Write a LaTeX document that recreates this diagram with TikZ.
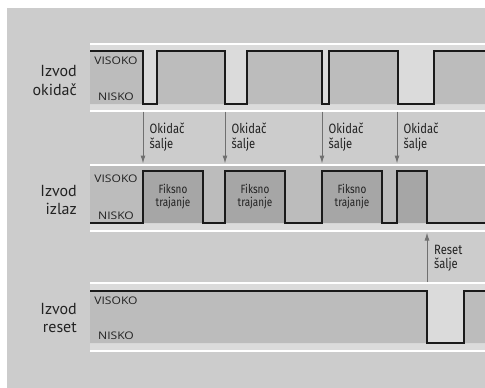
\documentclass[tikz,border=0pt]{standalone}
\usepackage{fontspec}
\setmainfont{PT Sans}
\newfontfamily\condfont[FakeStretch=0.83]{Fira Sans}
\newfontfamily\levelfont[FakeStretch=1.15]{Open Sans}
\usetikzlibrary{arrows.meta}
\definecolor{panelbg}{HTML}{CCCCCC}
\definecolor{lite}{HTML}{DBDBDB}
\definecolor{midg}{HTML}{BCBCBC}
\definecolor{darkg}{HTML}{A6A6A6}
\definecolor{arrowg}{HTML}{707070}
\definecolor{sigc}{HTML}{1A1A1A}
\definecolor{txt}{HTML}{222222}
\tikzset{
  rowlabel/.style={align=right, inner sep=0pt, text=txt, font=\fontsize{16}{18.5}\selectfont},
  level/.style={inner sep=0pt, text=txt, font=\levelfont\fontsize{10.5}{12}\selectfont},
  evlabel/.style={align=left, inner sep=0pt, text=txt, font=\condfont\fontsize{13.5}{14.5}\selectfont},
  fixlabel/.style={align=center, inner sep=0pt, text=txt, font=\condfont\fontsize{12}{13}\selectfont},
  sepline/.style={draw=white, line width=2pt},
  signal/.style={draw=sigc, line width=1.3pt, line join=miter},
  evarrow/.style={draw=arrowg, line width=1pt, -{Latex[length=8pt,width=5pt]}},
}
\begin{document}
\begin{tikzpicture}[x=1pt,y=-1pt]
\useasboundingbox (0,0) rectangle (485,388);
\fill[white] (0,0) rectangle (485,388);
\fill[panelbg] (7,8) rectangle (485,388);

% ---------- Row 1: trigger ----------
\fill[lite] (90,44) rectangle (485,110);
\fill[midg] (90,51) rectangle (143,104) (157,51) rectangle (225,104)
  (247,51) rectangle (322,104) (329,51) rectangle (398,104) (434,51) rectangle (485,104);
\draw[sepline] (90,43.5) -- (485,43.5) (90,110.5) -- (485,110.5);
\draw[signal] (90,51) -| (143,104) -| (157,51) -| (225,104) -| (247,51) -| (322,104)
  -| (329,51) -| (398,104) -| (434,51) -- (485,51);

% ---------- Row 2: output ----------
\fill[lite] (90,165) rectangle (485,230);
\fill[midg] (90,165) rectangle (485,223);
\fill[darkg] (143,171) rectangle (203,223) (225,171) rectangle (285,223)
  (322,171) rectangle (382,223) (397,171) rectangle (427,223);
\draw[sepline] (90,164.5) -- (485,164.5) (90,231) -- (485,231);
\draw[signal] (90,223) -| (143,171) -| (203,223) -| (225,171) -| (285,223) -| (322,171)
  -| (382,223) -| (397,171) -| (427,223) -- (485,223);

% ---------- Row 3: reset ----------
\fill[lite] (90,283) rectangle (485,350);
\fill[midg] (90,291) rectangle (427,343) (464,291) rectangle (485,343);
\draw[sepline] (90,283) -- (485,283) (90,351) -- (485,351);
\draw[signal] (90,291) -| (427,343) -| (464,291) -- (485,291);

% ---------- Row labels (base = last line) ----------
\node[rowlabel, anchor=base east] (lab1) at (77,95) {Izvod\\okidač};
\node[rowlabel, anchor=base east] (lab2) at (77,214.5) {Izvod\\izlaz};
\node[rowlabel, anchor=base east] (lab3) at (77,332.5) {Izvod\\reset};

% ---------- Level labels ----------
\node[level] (hi1) at (116,60.3) {VISOKO};
\node[level] (lo1) at (116,96.3) {NISKO};
\node[level] (hi2) at (116,178.7) {VISOKO};
\node[level] (lo2) at (116,215.5) {NISKO};
\node[level] (hi3) at (116,301) {VISOKO};
\node[level] (lo3) at (116,336) {NISKO};

% ---------- Fixed duration labels ----------
\node[fixlabel, anchor=base] (fx1) at (173,206) {Fiksno\\trajanje};
\node[fixlabel, anchor=base] (fx2) at (255,206) {Fiksno\\trajanje};
\node[fixlabel, anchor=base] (fx3) at (352,206) {Fiksno\\trajanje};

% ---------- Trigger events ----------
\foreach \x/\n in {143/1,225/2,322/3,397/4} {
  \coordinate (ts\n) at (\x,111.5);
  \coordinate (te\n) at (\x,163.5);
  \draw[evarrow] (ts\n) -- (te\n);
  \node[evlabel, anchor=base west] (tl\n) at (\x+6.5,148) {Okidač\\šalje};
}

% ---------- Reset event ----------
\coordinate (rs) at (427,282);
\coordinate (re) at (427,232.5);
\draw[evarrow] (rs) -- (re);
\node[evlabel, anchor=base west] (rl) at (434,268.5) {Reset\\šalje};
\end{tikzpicture}
\end{document}
